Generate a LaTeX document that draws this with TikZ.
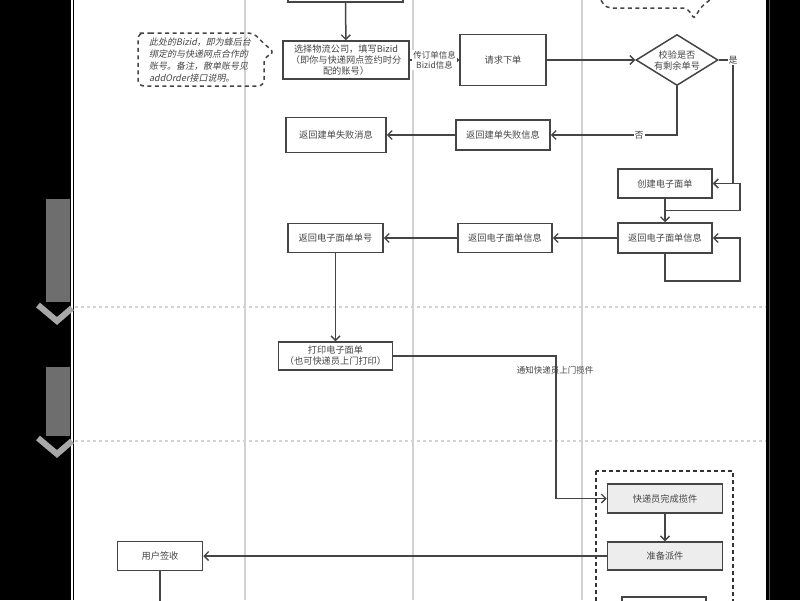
\documentclass[tikz,border=0pt]{standalone}
\usepackage{fontspec}
\setmainfont{Noto Sans CJK SC}
\newfontfamily\cjkit[FakeSlant=0.2]{Noto Sans CJK SC}
\usetikzlibrary{arrows.meta,shapes.geometric,calc}
\definecolor{ink}{HTML}{454545}
\definecolor{lane}{HTML}{D2D2D2}
\definecolor{boxfill}{HTML}{EDEDED}
\definecolor{artgray}{HTML}{6E6E6E}
\definecolor{artlight}{HTML}{A8A8A8}
\tikzset{
 box/.style={draw=ink, line width=1.5pt, text=ink, font=\fontsize{9.2}{11}\selectfont, align=center, inner sep=1pt, fill=white},
 graybox/.style={box, fill=boxfill},
 arr/.style={draw=ink, line width=1.5pt, -{Straight Barb[length=4.5pt,width=9pt,line width=1.3pt]}},
 ln/.style={draw=ink, line width=1.5pt},
 lbl/.style={text=ink, font=\fontsize{8.5}{10}\selectfont, align=center, inner sep=1pt},
 notedash/.style={draw=ink, line width=1.5pt, dash pattern=on 4pt off 3.5pt},
 groupdash/.style={draw=black!80, line width=1.5pt, dash pattern=on 4pt off 3pt},
 lanev/.style={draw=lane, line width=1.5pt},
 laneh/.style={draw=lane, line width=1.2pt, dash pattern=on 3pt off 3pt},
}
\begin{document}
\begin{tikzpicture}[x=1pt,y=-1pt]
\useasboundingbox (0,0) rectangle (800,600);
\begin{scope}
\clip (0,0) rectangle (800,600);
\fill[white] (0,0) rectangle (800,600);
% side black areas
\fill[black] (0,0) rectangle (71,600);
\draw[black, line width=1.2pt] (73.5,0) -- (73.5,600);
\fill[black] (766,0) rectangle (800,600);
\draw[black!65, line width=1.2pt] (769.5,0) -- (769.5,600);
% lane label artifacts
\fill[artgray] (46,199) rectangle (70,302);
\fill[artgray] (46,367) rectangle (70,436);
\draw[artlight, line width=6pt, line join=miter] (38,305) -- (57,321) -- (72,308);
\draw[artlight, line width=6pt, line join=miter] (38,438) -- (57,454) -- (72,441);
% lanes
\draw[lanev] (245,0) -- (245,600);
\draw[lanev] (413,0) -- (413,600);
\draw[lanev] (582,0) -- (582,600);
\draw[laneh] (75,307) -- (766,307);
\draw[laneh] (75,441) -- (766,441);

% group box
\draw[groupdash] (596,471) rectangle (733,612);

% nodes
\node[box, minimum width=115pt, minimum height=22pt] (top) at (345.5,-9) {};
\node[box, minimum width=126pt, minimum height=38pt] (sel) at (346,60) {选择物流公司，填写Bizid\\（即你与快递网点签约时分\\配的账号）};
\node[box, minimum width=86pt, minimum height=51pt] (req) at (503,60) {请求下单};
\node[box, shape=diamond, aspect=1.6, inner sep=0pt, minimum width=82pt, minimum height=51pt] (dia) at (677,60) {校验是否\\有剩余单号};
\node[box, minimum width=94pt, minimum height=30pt] (fail2) at (503,135) {返回建单失败信息};
\node[box, minimum width=100pt, minimum height=35pt] (fail1) at (336,135) {返回建单失败消息};
\node[box, minimum width=94pt, minimum height=29pt] (create) at (665,183.5) {创建电子面单};
\node[box, minimum width=94pt, minimum height=30pt] (ret3) at (665,238) {返回电子面单信息};
\node[box, minimum width=94pt, minimum height=29pt] (ret2) at (505,238) {返回电子面单信息};
\node[box, minimum width=95pt, minimum height=29pt] (ret1) at (335.5,238) {返回电子面单单号};
\node[box, minimum width=114pt, minimum height=28pt] (print) at (335.5,356) {打印电子面单\\（也可快递员上门打印）};
\node[graybox, minimum width=115pt, minimum height=29pt] (pick) at (665,498.5) {快递员完成揽件};
\node[graybox, minimum width=115pt, minimum height=28pt] (disp) at (665,556) {准备派件};
\node[box, minimum width=85pt, minimum height=29pt] (sign) at (160,556) {用户签收};
\node[box, minimum width=84pt, minimum height=24pt] (last) at (664,609) {};
\coordinate (signend) at (160,610);

% note bubble
\node[lbl, align=left, font=\cjkit\fontsize{9}{12}\selectfont] (note) at (200,60) {此处的Bizid，即为蜂后台\\绑定的与快递网点合作的\\账号。备注，散单账号见\\addOrder接口说明。};
\draw[notedash, rounded corners=6pt] (144,33) -- (254,33) -- (262,42) -- (275,53) -- (264,57) -- (264,86) -- (138,86) -- (138,33) -- cycle;
% top right bubble
\draw[notedash, rounded corners=5pt] (597,-6) -- (606,8) -- (688,8) -- (694,20) -- (700,8) -- (717,-6);

% connectors
\draw[arr] (top) -- (sel);
\draw[arr] (sel) -- node[lbl, fill=white]{传订单信息\\Bizid信息} (req);
\draw[arr] (req) -- (dia);
\draw[arr] (dia.east) -| node[pos=0.5, lbl, fill=white, font=\fontsize{9}{10}\selectfont]{是} (733,183.5) -- (create.east);
\draw[arr] (dia.south) |- node[pos=0.65, lbl, fill=white, font=\fontsize{9}{10}\selectfont]{否} (fail2.east);
\draw[arr] (fail2) -- (fail1);
\draw[arr] (create) -- (ret3);
\draw[arr] ($(create.south)!0.5!(ret3.north)$) -| (740,183.5) -- (create.east);
\draw[arr] (ret3.south) -- ++(0,27) -| (740,238) -- (ret3.east);
\draw[arr] (ret3) -- (ret2);
\draw[arr] (ret2) -- (ret1);
\draw[arr] (ret1) -- (print);
\draw[arr] (print.east) -| (556,498.5) -- (pick.west);
\node[lbl] (notify) at (555,370) {通知快递员上门揽件};
\draw[arr] (pick) -- (disp);
\draw[arr] (disp) -- (sign);
\draw[ln] (sign) -- (signend);
\end{scope}
\end{tikzpicture}
\end{document}
